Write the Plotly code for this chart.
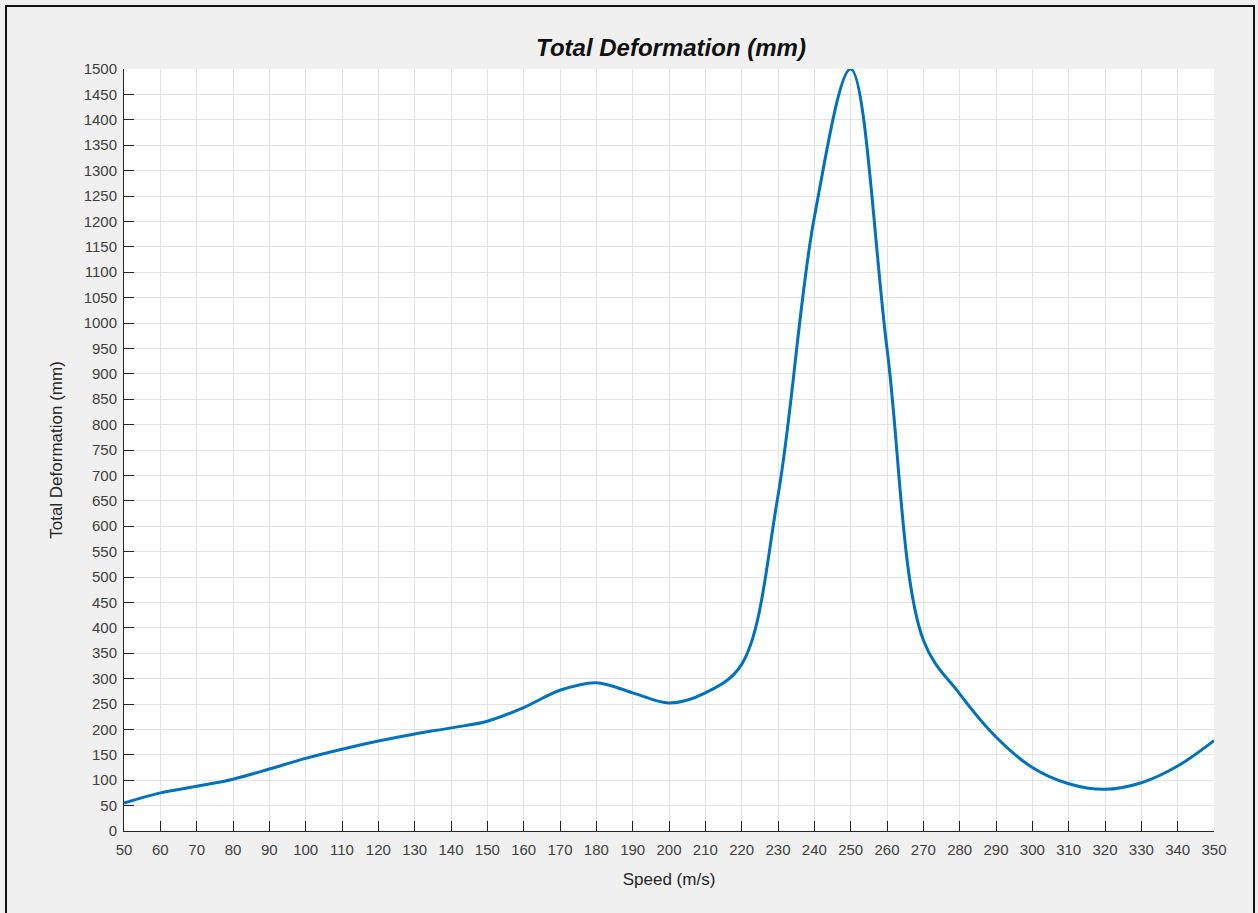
import plotly.graph_objects as go

speed = [50, 60, 70, 80, 90, 100, 110, 120, 130, 140, 150, 160, 170, 180, 190, 200,
         210, 220, 230, 240, 250, 260, 270, 280, 290, 300, 310, 320, 330, 340, 350]
deformation = [55, 75, 88, 102, 122, 143, 161, 177, 191, 203, 216, 243, 277, 292, 272, 252,
               272, 328, 660, 1208, 1500, 950, 376, 270, 185, 125, 93, 82, 95, 128, 178]

x_ticks = list(range(50, 351, 10))
y_ticks = list(range(0, 1501, 50))

W, H = 1258, 913
L, R, T, B = 124, 44, 69, 82
pw, ph = W - L - R, H - T - B

fig = go.Figure()
fig.add_trace(go.Scatter(
    x=speed, y=deformation, mode="lines",
    line=dict(color="#0072BD", width=3, shape="spline", smoothing=1.0),
    showlegend=False, hoverinfo="x+y",
))

font_family = "Liberation Sans, Arial, Helvetica, sans-serif"
axis_common = dict(
    showgrid=True, gridcolor="#e3e3e3", gridwidth=1,
    showline=True, linecolor="#262626", linewidth=1,
    ticks="inside", ticklen=10, tickcolor="#262626", tickwidth=1,
    tickfont=dict(family=font_family, size=15, color="#404040"),
    zeroline=False, mirror=False,
)

fig.update_layout(
    width=W, height=H,
    margin=dict(l=L, r=R, t=T, b=B, pad=0),
    paper_bgcolor="#f0f0f0", plot_bgcolor="white",
    title=dict(text="Total Deformation (mm)", x=671 / W, xanchor="center",
               y=1 - 48 / H, yanchor="middle",
               font=dict(family=font_family, size=24, color="#111111", weight="bold", style="italic")),
    xaxis=dict(range=[50, 350], tickvals=x_ticks, ticktext=[str(v) for v in x_ticks],
               ticklabelstandoff=5,
               title=dict(text="Speed (m/s)", standoff=16,
                          font=dict(family=font_family, size=17, color="#262626")),
               **axis_common),
    yaxis=dict(range=[0, 1500], tickvals=y_ticks, ticktext=[str(v) for v in y_ticks],
               ticklabelstandoff=3,
               title=dict(text="Total Deformation (mm)", standoff=16,
                          font=dict(family=font_family, size=17, color="#262626")),
               **axis_common),
)

# outer figure border (screenshot frame), bottom edge is outside the picture
fig.add_shape(type="rect", xref="paper", yref="paper",
              x0=(6 - L) / pw, x1=(1254 - L) / pw,
              y0=-(B + 20) / ph, y1=(ph + T - 6) / ph,
              line=dict(color="#111111", width=2), fillcolor="rgba(0,0,0,0)", layer="below")

fig.write_html("out.html", config={"displayModeBar": False},
               post_script="document.body.style.margin='0';document.body.style.overflow='hidden';")
